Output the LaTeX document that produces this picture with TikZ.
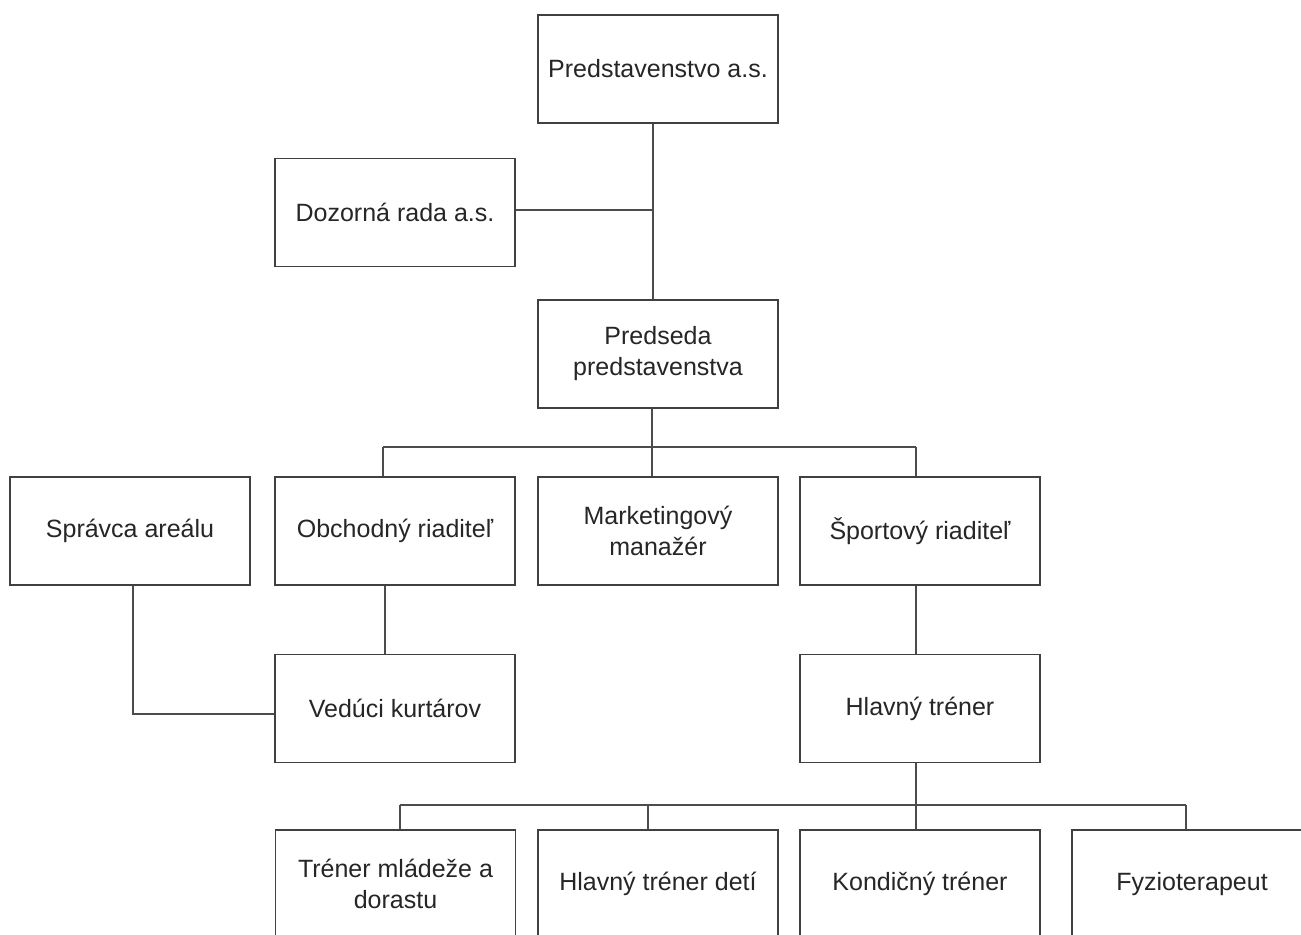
\documentclass[tikz,border=0pt]{standalone}
\usepackage{fontspec}
\setmainfont{Liberation Sans}
\begin{document}
\begin{tikzpicture}[x=0.5pt,y=-0.5pt,
  box/.style={draw=black!75,line width=0.6pt,minimum width=120pt,minimum height=54pt,inner sep=2pt,
    align=center,text=black!85,font=\fontsize{12.5}{15.5}\selectfont},
  link/.style={draw=black!70,line width=0.6pt}]
\fill[white] (0,0) rectangle (1301,935);
\clip (0,0) rectangle (1301,935);
% level 0/1
\node[box] (pres) at (658,69) {Predstavenstvo a.s.};
\node[box] (dozor) at (395,212.5) {Dozorná rada a.s.};
\node[box] (predseda) at (658,354) {Predseda\\predstavenstva};
% level 2
\node[box] (spravca) at (130,531) {Správca areálu};
\node[box] (obch) at (395,531) {Obchodný riaditeľ};
\node[box] (mark) at (658,531) {Marketingový\\manažér};
\node[box] (sport) at (920,531) {Športový riaditeľ};
% level 3
\node[box] (veduci) at (395,708.5) {Vedúci kurtárov};
\node[box] (hlavny) at (920,708.5) {Hlavný tréner};
% level 4
\node[box] (mladez) at (395.5,884) {Tréner mládeže a\\dorastu};
\node[box] (deti) at (658,884) {Hlavný tréner detí};
\node[box] (kond) at (920,884) {Kondičný tréner};
\node[box] (fyzio) at (1192,884) {Fyzioterapeut};
% connectors top
\coordinate (t) at (653,210);
\draw[link] (t |- pres.south) -- (t |- predseda.north);
\draw[link] (dozor.east |- t) -- (t);
% bus 1
\coordinate (j1) at (652,447);
\coordinate (j1l) at (383,447);
\coordinate (j1r) at (916,447);
\draw[link] (j1 |- predseda.south) -- (j1);
\draw[link] (j1l) -- (j1r);
\draw[link] (j1l) -- (j1l |- obch.north);
\draw[link] (j1) -- (j1 |- mark.north);
\draw[link] (j1r) -- (j1r |- sport.north);
% level 2 -> 3
\coordinate (o) at (385,0);
\draw[link] (o |- obch.south) -- (o |- veduci.north);
\coordinate (s) at (916,0);
\draw[link] (s |- sport.south) -- (s |- hlavny.north);
\coordinate (sp) at (133,714);
\draw[link] (sp |- spravca.south) -- (sp) -- (sp -| veduci.west);
% bus 2
\coordinate (j2) at (916,805);
\coordinate (j2l) at (400,805);
\coordinate (j2a) at (648,805);
\coordinate (j2r) at (1186,805);
\draw[link] (j2 |- hlavny.south) -- (j2);
\draw[link] (j2l) -- (j2r);
\draw[link] (j2l) -- (j2l |- mladez.north);
\draw[link] (j2a) -- (j2a |- deti.north);
\draw[link] (j2) -- (j2 |- kond.north);
\draw[link] (j2r) -- (j2r |- fyzio.north);
\end{tikzpicture}
\end{document}
